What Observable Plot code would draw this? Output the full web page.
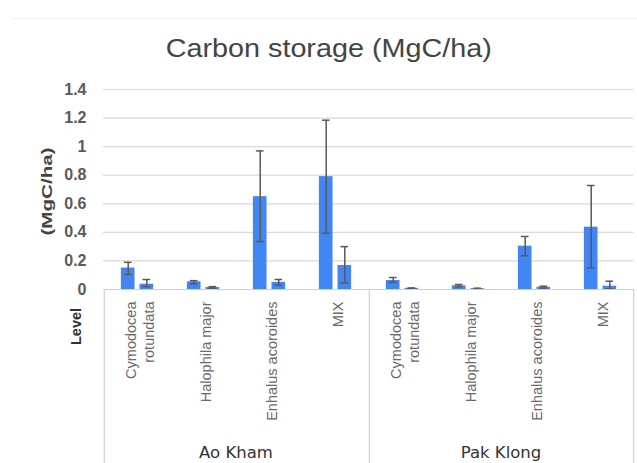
<!DOCTYPE html>
<html><head><meta charset="utf-8">
<script src="https://cdn.jsdelivr.net/npm/d3@7"></script>
<script src="https://cdn.jsdelivr.net/npm/@observablehq/plot@0.6"></script>
<style>
body{margin:0;background:#fff;width:637px;height:463px;overflow:hidden;position:relative}
#top{height:70px;position:relative}
#rule{position:absolute;left:12px;right:0;top:18px;border-top:1px solid #f0f0ea}
#title{position:absolute;left:10px;width:637px;top:34px;text-align:center;font:25px "Liberation Sans",Arial,sans-serif;color:#444;white-space:nowrap}
#title span{display:inline-block;transform:scaleX(1.15)}
#chart svg{display:block}
</style></head>
<body>
<div id="top"><div id="rule"></div><div id="title"><span>Carbon storage (MgC/ha)</span></div></div>
<div id="chart"></div>
<script>
const groups = ["Ao Kham", "Pak Klong"];
const species = ["Cymodocea rotundata", "Halophila major", "Enhalus acoroides", "MIX"];
const speciesLabels = ["Cymodocea\nrotundata", "Halophila major", "Enhalus acoroides", "MIX"];
const yTicks = [0, 0.2, 0.4, 0.6, 0.8, 1, 1.2, 1.4];
const yTitle = "(MgC/ha)";
const levelTitle = "Level";

// first bar of each pair (group x species)
const s1Mean = [[0.15, 0.054, 0.65, 0.79], [0.063, 0.026, 0.303, 0.436]];
const s1Lo   = [[0.105, 0.04, 0.335, 0.395], [0.05, 0.019, 0.236, 0.152]];
const s1Hi   = [[0.19, 0.062, 0.97, 1.185], [0.084, 0.035, 0.371, 0.728]];
// second bar of each pair
const s2Mean = [[0.037, 0.014, 0.05, 0.168], [0.008, 0.006, 0.016, 0.023]];
const s2Lo   = [[0.02, 0.009, 0.03, 0.047], [0.005, 0.004, 0.01, 0.005]];
const s2Hi   = [[0.07, 0.02, 0.07, 0.30], [0.011, 0.009, 0.023, 0.058]];

const rows = [];
groups.forEach((g, gi) => species.forEach((s, si) => rows.push({
  group: g, species: s,
  m1: s1Mean[gi][si], lo1: s1Lo[gi][si], hi1: s1Hi[gi][si],
  m2: s2Mean[gi][si], lo2: s2Lo[gi][si], hi2: s2Hi[gi][si]
})));

const W = 637, H = 393, mL = 102, mR = 4, mT = 19, mB = 174;
const bw = (W - mL - mR) / groups.length / species.length;
const half = bw / 2, off = 9.3, barW = 14, capW = 8;
const bar1 = {insetLeft: half - off - barW / 2, insetRight: half + off - barW / 2};
const bar2 = {insetLeft: half + off - barW / 2, insetRight: half - off - barW / 2};
const cap1 = {insetLeft: half - off - capW / 2, insetRight: half + off - capW / 2};
const cap2 = {insetLeft: half + off - capW / 2, insetRight: half - off - capW / 2};
const blue = "#4285F4", err = "#595959", plotH = H - mT - mB;

const chart = Plot.plot({
  width: W, height: H,
  marginLeft: mL, marginRight: mR, marginTop: mT, marginBottom: mB,
  style: {fontFamily: "'Liberation Sans', Arial, sans-serif", background: "white", overflow: "visible"},
  fx: {domain: groups, padding: 0},
  x: {domain: species, padding: 0},
  y: {domain: [0, 1.4]},
  marks: [
    Plot.gridY(yTicks, {stroke: "#d9d9d9", strokeOpacity: 1, strokeWidth: 1.2}),
    Plot.barY(rows, {fx: "group", x: "species", y: "m1", fill: blue, ...bar1}),
    Plot.barY(rows, {fx: "group", x: "species", y: "m2", fill: blue, ...bar2}),
    Plot.ruleX(rows, {fx: "group", x: "species", y1: "lo1", y2: "hi1", dx: -off, stroke: err, strokeWidth: 1.5}),
    Plot.tickY(rows, {fx: "group", x: "species", y: "hi1", stroke: err, strokeWidth: 1.5, ...cap1}),
    Plot.tickY(rows, {fx: "group", x: "species", y: "lo1", stroke: err, strokeWidth: 1.5, ...cap1}),
    Plot.ruleX(rows, {fx: "group", x: "species", y1: "lo2", y2: "hi2", dx: off, stroke: err, strokeWidth: 1.5}),
    Plot.tickY(rows, {fx: "group", x: "species", y: "hi2", stroke: err, strokeWidth: 1.5, ...cap2}),
    Plot.tickY(rows, {fx: "group", x: "species", y: "lo2", stroke: err, strokeWidth: 1.5, ...cap2}),
    Plot.ruleY([0], {stroke: "#cfcfcf", strokeWidth: 1.2}),
    // category box lines below the plot
    Plot.ruleX(groups, {fx: d => d, x: () => species[0], dx: -half, stroke: "#d0d0d0", strokeWidth: 1.2, insetTop: plotH, insetBottom: -mB}),
    Plot.ruleX([groups[groups.length - 1]], {fx: d => d, x: () => species[species.length - 1], dx: half, stroke: "#d0d0d0", strokeWidth: 1.2, insetTop: plotH, insetBottom: -mB}),
    Plot.axisY(yTicks, {tickSize: 0, tickPadding: 17, tickFormat: d3.format("~g"), fontSize: 16, fontWeight: "bold", color: "#5a5a5a", label: null}),
    Plot.axisX({anchor: "bottom", tickSize: 0, tickPadding: 12, tickRotate: -90, textAnchor: "end", lineAnchor: "middle", lineHeight: 1.2, fontSize: 14.5, color: "#6a6a6a", dx: 2, label: null, tickFormat: d => speciesLabels[species.indexOf(d)]}),
    Plot.axisFx({anchor: "bottom", tickSize: 0, tickPadding: 157, fontSize: 16.5, color: "#333", fontFamily: "'DejaVu Sans', sans-serif", label: null}),
    Plot.text([groups[0]], {fx: d => d, text: () => yTitle, frameAnchor: "left", textAnchor: "middle", dx: -56, dy: 2, rotate: -90, fontSize: 15, fontWeight: "bold", fill: "#444"}),
    Plot.text([groups[0]], {fx: d => d, text: () => levelTitle, frameAnchor: "bottom-left", textAnchor: "middle", dx: -23, dy: 37, rotate: -90, fontSize: 15, fontWeight: "bold", fill: "#333"})
  ]
});
chart.querySelectorAll("text").forEach(t => {
  if (t.textContent === yTitle) {
    t.setAttribute("text-anchor", "middle");
    t.setAttribute("textLength", 88);
    t.setAttribute("lengthAdjust", "spacingAndGlyphs");
  } else if (t.textContent === levelTitle) {
    t.setAttribute("text-anchor", "middle");
    t.setAttribute("textLength", 37);
    t.setAttribute("lengthAdjust", "spacingAndGlyphs");
  }
});
document.getElementById("chart").appendChild(chart);
</script>
</body></html>
